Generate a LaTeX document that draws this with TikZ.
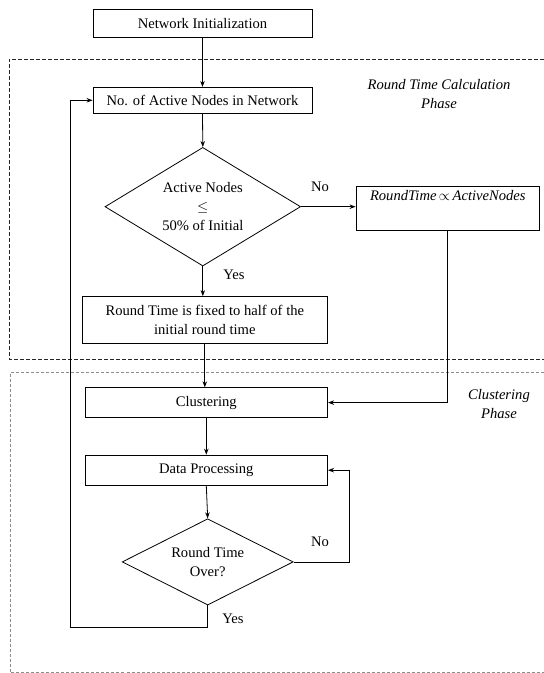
\documentclass[tikz,border=0pt]{standalone}
\usepackage{fontspec}
\setmainfont{Liberation Serif}
\usetikzlibrary{arrows.meta,shapes.geometric}
\begin{document}
\begin{tikzpicture}[x=1pt,y=-1pt,
  every node/.style={font=\fontsize{14.6}{19}\selectfont},
  procbox/.style={draw, line width=0.8pt, rectangle, inner sep=0pt, align=center},
  decision/.style={draw, line width=0.8pt, diamond, inner sep=0pt, align=center},
  lbl/.style={inner sep=0pt},
  phaselbl/.style={inner sep=0pt, align=center, font=\fontsize{14.6}{19}\selectfont\itshape},
  conn/.style={line width=0.8pt, -{Stealth[length=6pt,width=4.5pt]}},
  plain/.style={line width=0.8pt},
  phaseA/.style={dash pattern=on 4pt off 2pt, line width=0.7pt, black!85},
  phaseB/.style={dash pattern=on 3pt off 2pt, line width=0.8pt, black!45}
]
\useasboundingbox (0,0) rectangle (544,673);

% phase frames
\draw[phaseA] (544,59.3) -- (9,59.3) -- (9,359) -- (544,359);
\draw[phaseB] (544,372.5) -- (10,372.5) -- (10,672) -- (544,672);

\node[phaselbl] (ph1) at (439,94) {Round Time Calculation\\Phase};
\node[phaselbl] (ph2) at (499,404.5) {Clustering\\Phase};

% nodes
\node[procbox, minimum width=219pt, minimum height=28pt] (ni) at (202.5,23.3) {Network Initialization};
\node[procbox, minimum width=219pt, minimum height=26pt] (noa) at (202.5,100.3) {No. of Active Nodes in Network};
\node[decision, minimum width=195.6pt, minimum height=118.6pt, aspect=1.65] (d1) at (202.8,206.7)
  {Active Nodes\\$\leq$\\50\% of Initial};
\node[procbox, minimum width=183.7pt, minimum height=44pt] (rt) at (447.8,208)
  {\textit{RoundTime}\,$\propto$\,\textit{ActiveNodes}\\\strut};
\node[procbox, minimum width=244.3pt, minimum height=47pt] (fx) at (204.8,320)
  {Round Time is fixed to half of the\\initial round time};
\node[procbox, minimum width=242.7pt, minimum height=29.8pt] (cl) at (206.3,402.6) {Clustering};
\node[procbox, minimum width=242.7pt, minimum height=30.3pt] (dp) at (206.3,470.2) {Data Processing};
\node[decision, minimum width=171pt, minimum height=86.3pt, aspect=1.98] (d2) at (207.7,561.9)
  {Round Time\\Over?};

\coordinate (noc) at (349.3,561.9);
\coordinate (yesc) at (70.7,627.7);

% labels
\node[lbl] (no1) at (320,187) {No};
\node[lbl] (yes1) at (234,275) {Yes};
\node[lbl] (no2) at (320,542) {No};
\node[lbl] (yes2) at (233,619) {Yes};

% connectors
\draw[conn] (ni.south) -- (noa.north);
\draw[conn] (noa.south) -- (d1.north);
\draw[conn] (d1.east) -- (d1.east -| rt.west);
\draw[conn] (d1.south) -- (d1.south |- fx.north);
\draw[conn] (fx.south) -- (fx.south |- cl.north);
\draw[conn] (rt.south) |- (cl.east);
\draw[conn] (cl.south) -- (dp.north);
\draw[conn] (dp.south) -- (d2.north);
\draw[conn] (d2.east) -- (noc) |- (dp.east);
\draw[conn] (d2.south) |- (yesc) |- (noa.west);
\end{tikzpicture}
\end{document}
